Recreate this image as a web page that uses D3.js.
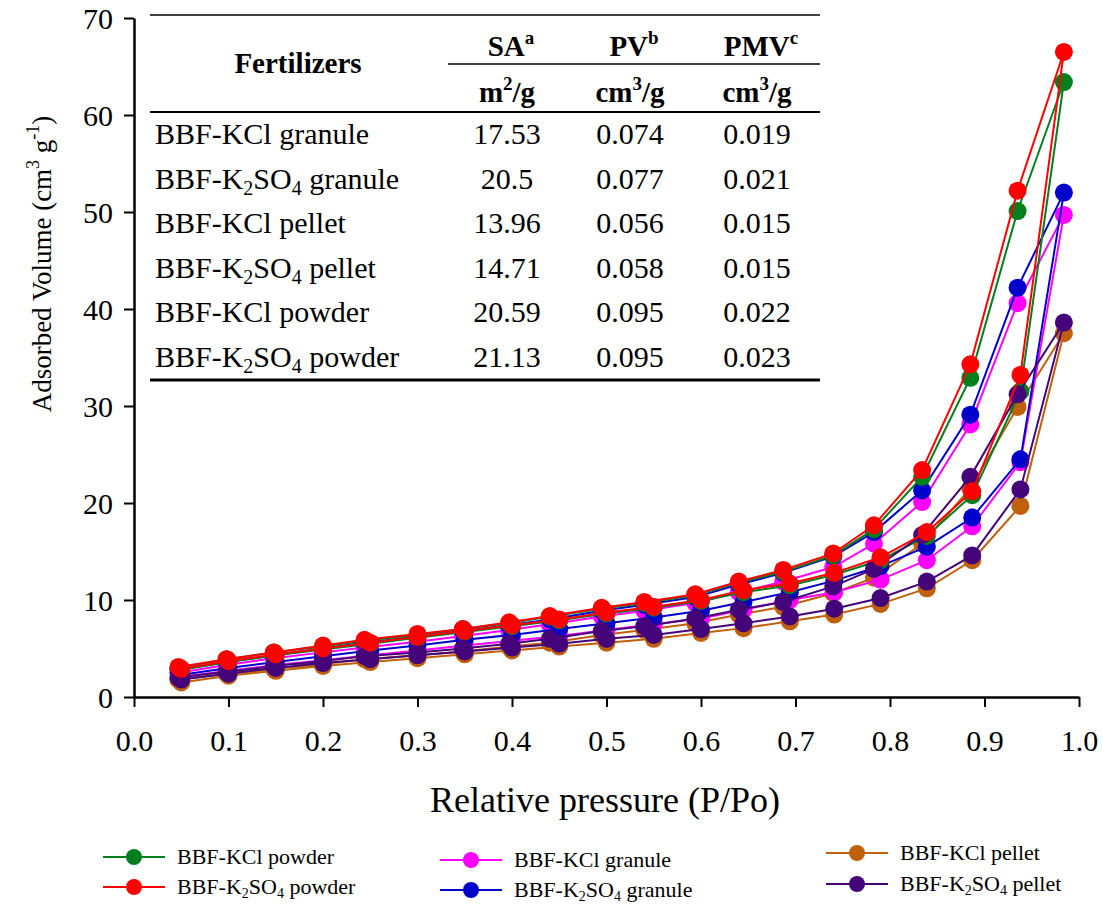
<!DOCTYPE html>
<html lang="en">
<head>
    <meta charset="UTF-8">
    <title>N2 Adsorption Isotherms</title>
    <script src="https://d3js.org/d3.v7.min.js"></script>
    <style>
        body { margin: 0; background: #fff; }
        svg text { font-family: "Liberation Serif", Tinos, "Times New Roman", "DejaVu Serif", serif !important; }
    </style>
</head>
<body>
    <svg width="1103" height="908"></svg>

    <script>
        // relative pressure of the adsorption and desorption points
        const adsP = [0.05, 0.1, 0.15, 0.2, 0.25, 0.3, 0.35, 0.4, 0.45, 0.5, 0.55, 0.6, 0.645, 0.694, 0.741, 0.79, 0.839, 0.887, 0.938, 0.984];
        const desP = [0.935, 0.885, 0.834, 0.783, 0.74, 0.687, 0.64, 0.594, 0.54, 0.495, 0.44, 0.397, 0.348, 0.3, 0.244, 0.2, 0.148, 0.098, 0.047];

        // adsorbed volume (cm3/g)
        const kclPowderAds = [2.8, 3.6, 4.3, 4.9, 5.5, 6.1, 6.7, 7.3, 7.9, 8.6, 9.2, 9.9, 10.8, 11.5, 12.6, 14.1, 16.6, 20.8, 31.5, 63.4];
        const kclPowderDes = [50.1, 32.9, 22.7, 17.3, 14.6, 12.9, 11.8, 10.5, 9.7, 9.1, 8.3, 7.6, 7.0, 6.4, 5.8, 5.2, 4.6, 3.9, 3.0];
        const k2so4PowderAds = [2.9, 3.7, 4.4, 5.0, 5.6, 6.2, 6.8, 7.4, 8.0, 8.7, 9.3, 10.0, 11.0, 11.7, 12.8, 14.4, 17.0, 21.2, 33.2, 66.5];
        const k2so4PowderDes = [52.2, 34.3, 23.4, 17.7, 14.8, 13.1, 11.9, 10.6, 9.8, 9.2, 8.35, 7.7, 7.0, 6.5, 5.9, 5.3, 4.6, 3.9, 3.1];
        const kclGranuleAds = [2.1, 2.7, 3.3, 3.8, 4.3, 4.8, 5.3, 5.8, 6.3, 6.9, 7.5, 8.1, 9.0, 10.0, 10.8, 12.1, 14.1, 17.6, 24.2, 49.7];
        const kclGranuleDes = [40.6, 28.1, 20.1, 15.8, 13.4, 11.9, 10.8, 9.7, 8.9, 8.3, 7.5, 6.9, 6.3, 5.7, 5.1, 4.6, 4.0, 3.3, 2.5];
        const k2so4GranuleAds = [2.3, 3.0, 3.6, 4.2, 4.8, 5.3, 5.9, 6.4, 7.0, 7.6, 8.2, 8.9, 9.8, 10.8, 12.0, 13.5, 15.5, 18.5, 24.5, 52.0];
        const k2so4GranuleDes = [42.2, 29.1, 21.3, 17.0, 14.5, 12.8, 11.6, 10.3, 9.5, 8.9, 8.0, 7.4, 6.8, 6.2, 5.6, 5.0, 4.3, 3.6, 2.8];
        const kclPelletAds = [1.5, 2.2, 2.7, 3.2, 3.6, 4.0, 4.4, 4.8, 5.2, 5.6, 6.0, 6.6, 7.1, 7.8, 8.5, 9.6, 11.2, 14.1, 19.7, 37.5];
        const kclPelletDes = [29.9, 21.5, 15.8, 12.3, 10.7, 9.3, 8.5, 7.6, 6.9, 6.4, 5.6, 5.2, 4.7, 4.3, 3.9, 3.4, 2.9, 2.4, 1.8];
        const k2so4PelletAds = [1.8, 2.4, 3.0, 3.5, 3.9, 4.3, 4.7, 5.1, 5.5, 6.0, 6.4, 7.0, 7.6, 8.3, 9.1, 10.2, 11.9, 14.6, 21.4, 38.6];
        const k2so4PelletDes = [31.2, 22.7, 16.7, 13.2, 11.4, 9.8, 9.0, 8.1, 7.3, 6.8, 6.0, 5.5, 5.0, 4.6, 4.2, 3.7, 3.2, 2.6, 2.0];

        const xTicks = [0, 0.1, 0.2, 0.3, 0.4, 0.5, 0.6, 0.7, 0.8, 0.9, 1.0];
        const yTicks = [0, 10, 20, 30, 40, 50, 60, 70];

        // inset table (odd parts are subscripts)
        const tableNames = [["BBF-KCl granule"], ["BBF-K", "2", "SO", "4", " granule"], ["BBF-KCl pellet"],
                            ["BBF-K", "2", "SO", "4", " pellet"], ["BBF-KCl powder"], ["BBF-K", "2", "SO", "4", " powder"]];
        const saVals = ["17.53", "20.5", "13.96", "14.71", "20.59", "21.13"];
        const pvVals = ["0.074", "0.077", "0.056", "0.058", "0.095", "0.095"];
        const pmvVals = ["0.019", "0.021", "0.015", "0.015", "0.022", "0.023"];

        // series in drawing order (last on top)
        const series = [
            { name: ["BBF-KCl pellet"], color: "#c0600a", ads: kclPelletAds, des: kclPelletDes, leg: [2, 0] },
            { name: ["BBF-KCl granule"], color: "#ff00ff", ads: kclGranuleAds, des: kclGranuleDes, leg: [1, 0] },
            { name: ["BBF-K", "2", "SO", "4", " granule"], color: "#0000cc", ads: k2so4GranuleAds, des: k2so4GranuleDes, leg: [1, 1] },
            { name: ["BBF-KCl powder"], color: "#007f1f", ads: kclPowderAds, des: kclPowderDes, leg: [0, 0] },
            { name: ["BBF-K", "2", "SO", "4", " pellet"], color: "#45057a", ads: k2so4PelletAds, des: k2so4PelletDes, leg: [2, 1] },
            { name: ["BBF-K", "2", "SO", "4", " powder"], color: "#ff0000", ads: k2so4PowderAds, des: k2so4PowderDes, leg: [0, 1] }
        ];

        const svg = d3.select("svg");
        const x = d3.scaleLinear().domain([0, 1]).range([134, 1079]);
        const y = d3.scaleLinear().domain([0, 70]).range([697, 18]);

        // writes parts of a label, odd parts as sub/superscripts; shift in px (+ = down)
        function richText(sel, parts, size, shift) {
            sel.style("font-size", size + "px");
            parts.forEach((p, i) => {
                const t = sel.append("tspan").text(p);
                if (i % 2 === 1) {
                    t.style("font-size", Math.round(size * 0.65) + "px").attr("dy", shift);
                } else if (i > 0) {
                    t.attr("dy", -shift);
                }
            });
        }

        // isotherm loops: adsorption going up, desorption coming back
        const line = d3.line().x(d => x(d[0])).y(d => y(d[1]));
        const plot = svg.append("g");
        series.forEach(s => {
            const pts = adsP.map((p, i) => [p, s.ads[i]]).concat(desP.map((p, i) => [p, s.des[i]]));
            const g = plot.append("g");
            g.append("path")
             .attr("d", line(pts))
             .attr("fill", "none")
             .attr("stroke", s.color)
             .attr("stroke-width", 2);
            g.selectAll("circle")
             .data(pts)
             .enter()
             .append("circle")
             .attr("cx", d => x(d[0]))
             .attr("cy", d => y(d[1]))
             .attr("r", 9)
             .attr("fill", s.color);
        });

        // axes
        const xAxis = svg.append("g")
            .attr("transform", "translate(0,697)")
            .call(d3.axisBottom(x).tickValues(xTicks).tickFormat(d3.format(".1f")).tickSize(10).tickSizeOuter(0));
        const yAxis = svg.append("g")
            .attr("transform", "translate(134,0)")
            .call(d3.axisLeft(y).tickValues(yTicks).tickSize(10).tickSizeOuter(0));
        [xAxis, yAxis].forEach(a => {
            a.attr("font-family", null);
            a.select(".domain").attr("stroke", "#000").attr("stroke-width", 2.5);
            a.selectAll(".tick line").attr("stroke", "#000").attr("stroke-width", 2);
            a.selectAll(".tick text")
             .attr("fill", "#000")
             .style("font-size", "30px");
        });
        xAxis.selectAll(".tick text").attr("y", 0).attr("dy", "54px");
        yAxis.selectAll(".tick text").attr("x", -21).attr("dy", "0.34em");

        // axis titles
        svg.append("text")
           .attr("x", 605)
           .attr("y", 812)
           .attr("text-anchor", "middle")
           .style("font-size", "36px")
           .text("Relative pressure (P/Po)");

        const yTitle = svg.append("text")
           .attr("transform", "translate(51,264) rotate(-90)")
           .attr("text-anchor", "middle");
        richText(yTitle, ["Adsorbed Volume (cm", "3", " g", "-1", ")"], 27, -12);

        // table
        const tbl = svg.append("g");
        const tl = 150, tr = 820;
        const hline = (x1, x2, yy, w) => tbl.append("line")
            .attr("x1", x1).attr("x2", x2).attr("y1", yy).attr("y2", yy)
            .attr("stroke", "#000").attr("stroke-width", w);
        hline(tl, tr, 15, 1.5);
        hline(448, tr, 64, 1.5);
        hline(tl, tr, 112, 2);
        hline(tl, tr, 380, 3);

        const colX = [507, 630, 757];
        tbl.append("text").attr("x", 298).attr("y", 73)
           .attr("text-anchor", "middle").attr("font-weight", "bold")
           .style("font-size", "29px").text("Fertilizers");
        [["SA", "a"], ["PV", "b"], ["PMV", "c"]].forEach((h, i) => {
            const t = tbl.append("text").attr("x", colX[i] + 4).attr("y", 56)
               .attr("text-anchor", "middle").attr("font-weight", "bold");
            richText(t, h, 29, -12);
        });
        [["m", "2", "/g"], ["cm", "3", "/g"], ["cm", "3", "/g"]].forEach((h, i) => {
            const t = tbl.append("text").attr("x", colX[i]).attr("y", 102)
               .attr("text-anchor", "middle").attr("font-weight", "bold");
            richText(t, h, 29, -12);
        });

        tableNames.forEach((nm, r) => {
            const yy = 144 + r * 44.5;
            const t = tbl.append("text").attr("x", 155).attr("y", yy);
            richText(t, nm, 30, 6);
            [saVals[r], pvVals[r], pmvVals[r]].forEach((v, i) => {
                tbl.append("text").attr("x", colX[i]).attr("y", yy)
                   .attr("text-anchor", "middle").style("font-size", "30px").text(v);
            });
        });

        // legend
        const legX = [103, 440, 826];
        const legY = [[857, 887], [860, 890], [853, 884]];
        series.forEach(s => {
            const lx = legX[s.leg[0]], ly = legY[s.leg[0]][s.leg[1]];
            const g = svg.append("g");
            g.append("line").attr("x1", lx).attr("x2", lx + 62).attr("y1", ly).attr("y2", ly)
             .attr("stroke", s.color).attr("stroke-width", 2);
            g.append("circle").attr("cx", lx + 31).attr("cy", ly).attr("r", 8).attr("fill", s.color);
            const t = g.append("text").attr("x", lx + 74).attr("y", ly + 7);
            richText(t, s.name, 22, 4);
        });
    </script>
</body>
</html>
